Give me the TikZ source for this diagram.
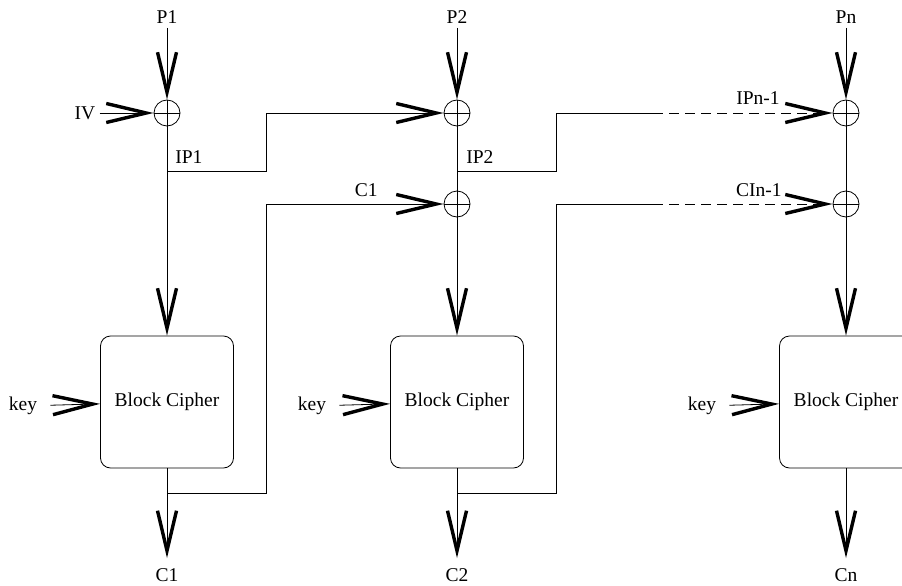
\documentclass[tikz,border=0pt]{standalone}
\usepackage{fontspec}
\setmainfont{Liberation Serif}
\usetikzlibrary{arrows.meta,positioning,calc}

\begin{document}
\begin{tikzpicture}[x=1pt,y=-1pt,line width=0.8pt,
    font=\fontsize{19.5}{22}\selectfont,
    lbl/.style={inner sep=4pt},
    xor/.style={draw,circle,minimum size=26pt,inner sep=0pt,
      path picture={\draw (path picture bounding box.north) -- (path picture bounding box.south)
                          (path picture bounding box.west) -- (path picture bounding box.east);}},
    cipher/.style={draw,rounded corners=10pt,minimum width=133pt,minimum height=132pt,inner sep=0pt},
    arr/.style={-{Straight Barb[length=40pt,width=19pt,line width=3.4pt]}},
    gap/.style={dash pattern=on 10pt off 6pt}]
  \clip (0,0) rectangle (902,586);

  % xor gates and ciphers
  \node[xor] (x11) at (167,113) {};
  \node[xor] (x21) at (457,113) {};
  \node[xor] (x22) at (457,204) {};
  \node[xor] (xn1) at (846,113) {};
  \node[xor] (xn2) at (846,204) {};
  \node[cipher] (b1) at (167,402) {Block Cipher};
  \node[cipher] (b2) at (457,402) {Block Cipher};
  \node[cipher] (bn) at (846,402) {Block Cipher};

  % inputs and outputs
  \node[lbl] (p1) at (167,17) {P1};
  \node[lbl] (p2) at (457,17) {P2};
  \node[lbl] (pn) at (846,17) {Pn};
  \node[lbl] (iv) at (85,113) {IV};
  \node[lbl] (k1) at (23,406) {key};
  \node[lbl] (k2) at (312,406) {key};
  \node[lbl] (kn) at (702,406) {key};
  \node[lbl] (c1) at (167,575) {C1};
  \node[lbl] (c2) at (457,575) {C2};
  \node[lbl] (cn) at (846,575) {Cn};
  \node[lbl,anchor=base west] (ip1) at (171,163) {IP1};
  \node[lbl,anchor=base west] (ip2) at (462,163) {IP2};
  \node[lbl,anchor=base east] (cc1) at (382,196) {C1};
  \node[lbl,anchor=base east] (ipn) at (784,104) {IPn-1};
  \node[lbl,anchor=base east] (cin) at (786,196) {CIn-1};

  % bends
  \coordinate (t1) at (167,171);
  \coordinate (r1) at (266,113);
  \coordinate (s1) at (167,493);
  \coordinate (q1) at (266,204);
  \coordinate (t2) at (457,171);
  \coordinate (r2) at (556,113);
  \coordinate (d1) at (653,113);
  \coordinate (s2) at (457,493);
  \coordinate (q2) at (556,204);
  \coordinate (d2) at (653,204);

  % column 1
  \draw[arr] (p1) -- (x11);
  \draw[arr] (iv) -- (x11);
  \draw[arr] (x11) -- (b1);
  \draw[arr,shorten <=9pt] (k1) -- (b1);
  \draw[arr,shorten >=6pt] (b1) -- (c1);
  \draw[arr] (t1) -| (r1) -- (x21);
  \draw[arr] (s1) -| (q1) -- (x22);

  % column 2
  \draw[arr] (p2) -- (x21);
  \draw (x21) -- (x22);
  \draw[arr] (x22) -- (b2);
  \draw[arr,shorten <=9pt] (k2) -- (b2);
  \draw[arr,shorten >=6pt] (b2) -- (c2);
  \draw (t2) -| (r2) -- (d1);
  \draw[arr,gap] (d1) -- (xn1);
  \draw (s2) -| (q2) -- (d2);
  \draw[arr,gap] (d2) -- (xn2);

  % column n
  \draw[arr] (pn) -- (xn1);
  \draw (xn1) -- (xn2);
  \draw[arr] (xn2) -- (bn);
  \draw[arr,shorten <=9pt] (kn) -- (bn);
  \draw[arr,shorten >=6pt] (bn) -- (cn);
\end{tikzpicture}
\end{document}
